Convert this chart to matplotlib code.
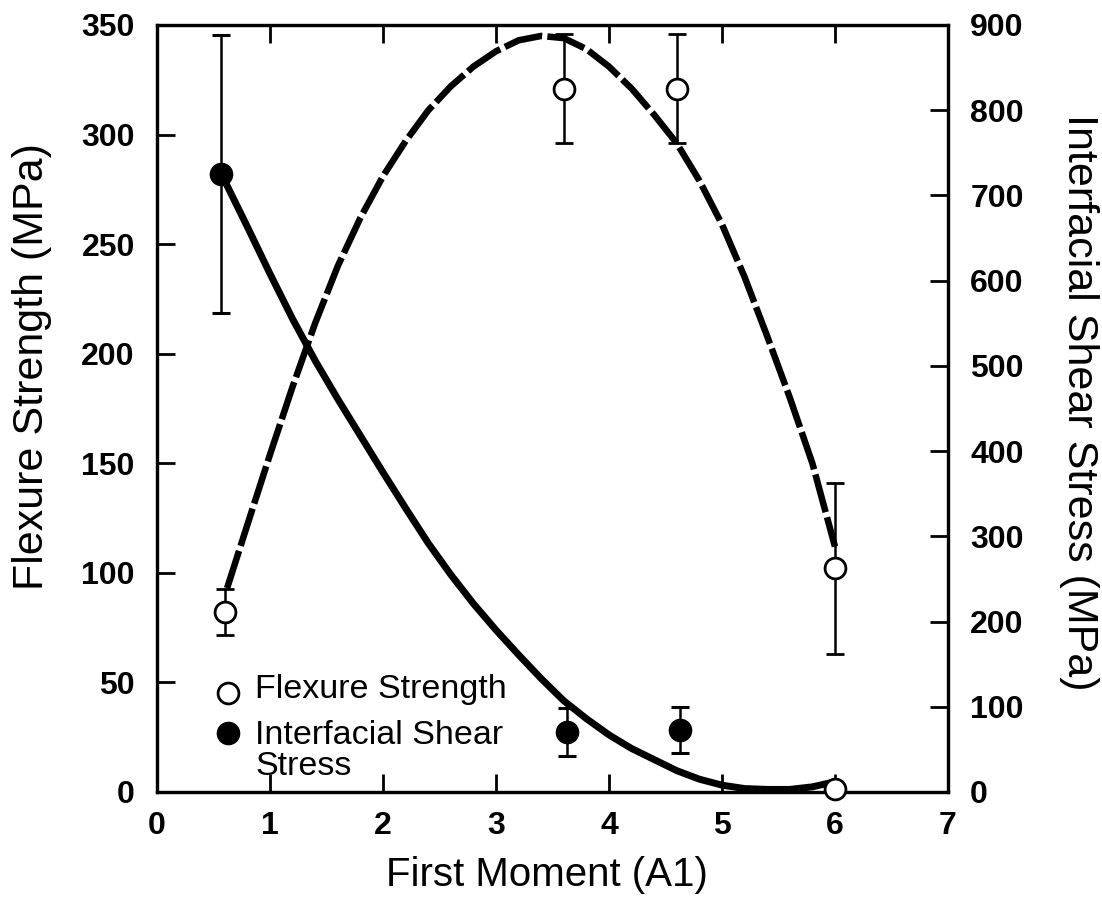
import matplotlib
matplotlib.use("Agg")
import matplotlib.pyplot as plt

plt.rcParams['font.family'] = ['Liberation Sans', 'DejaVu Sans']

# measured points, flexure strength (left axis, MPa)
moment_flex = [0.6, 3.6, 4.6, 6.0]
flex_strength = [82, 321, 321, 102]
flex_err = [10.5, 25, 25, 39]

# measured points, interfacial shear stress (right axis, MPa)
moment_iss = [0.57, 3.63, 4.63]
shear_stress = [725, 70, 73]
shear_err = [163, 28, 27]
moment_iss_open = [6.0]
shear_open = [3]

# hand-drawn trend curves
curve_flex_x = [0.62, 0.8, 1.0, 1.2, 1.4, 1.6, 1.8, 2.0, 2.2, 2.4, 2.6, 2.8,
                3.0, 3.2, 3.4, 3.6, 3.8, 4.0, 4.2, 4.4, 4.6, 4.8, 5.0, 5.2,
                5.4, 5.6, 5.8, 6.0]
curve_flex_y = [93, 122, 154, 185, 214, 240, 262, 281, 297, 311, 322, 331,
                338, 343, 345, 344, 339, 331, 321, 309, 296, 279, 259, 235,
                208, 180, 150, 112]
curve_iss_x = [0.57, 0.8, 1.0, 1.2, 1.4, 1.6, 1.8, 2.0, 2.2, 2.4, 2.6, 2.8,
               3.0, 3.2, 3.4, 3.6, 3.8, 4.0, 4.2, 4.4, 4.6, 4.8, 5.0, 5.2,
               5.4, 5.6, 5.8, 6.0]
curve_iss_y = [725, 663, 608, 555, 506, 461, 418, 375, 333, 292, 255, 221,
               190, 161, 133, 107, 86, 67, 51, 38, 25, 15, 8, 4,
               3, 3, 6, 12]

x_ticks = list(range(0, 8))
left_ticks = list(range(0, 351, 50))
right_ticks = list(range(0, 901, 100))

fig = plt.figure(figsize=(11.02, 9.05), dpi=100)
ax = fig.add_axes([0.1425, 0.1249, 0.7177, 0.8475])
ax2 = ax.twinx()

# curves
ax.plot(curve_flex_x, curve_flex_y, color='black', lw=4.7, ls=(0, (6, 0.8)),
        dash_capstyle='butt', zorder=3)
ax2.plot(curve_iss_x, curve_iss_y, color='black', lw=5, solid_capstyle='round',
         solid_joinstyle='round', zorder=3)

# data with error bars
ax.errorbar(moment_flex, flex_strength, yerr=flex_err, fmt='o', ms=15,
            mfc='white', mec='black', mew=2, ecolor='black', elinewidth=1.8,
            capsize=6.5, capthick=2.2, zorder=4)
ax2.errorbar(moment_iss, shear_stress, yerr=shear_err, fmt='o', ms=16,
             mfc='black', mec='black', ecolor='black', elinewidth=1.8,
             capsize=6.5, capthick=2.2, zorder=4)
ax2.plot(moment_iss_open, shear_open, 'o', ms=15, mfc='white', mec='black',
         mew=2, clip_on=False, zorder=5)

ax.set_xlim(0, 7)
ax.set_ylim(0, 350)
ax2.set_ylim(0, 900)
ax.set_xticks(x_ticks)
ax.set_yticks(left_ticks)
ax2.set_yticks(right_ticks)

ax.tick_params(axis='x', direction='in', top=True, length=13, width=2,
               pad=14, labelsize=23)
ax.tick_params(axis='y', direction='in', length=13, width=2, pad=16,
               labelsize=23)
ax2.tick_params(axis='y', direction='in', length=13, width=2, pad=16,
                labelsize=23)
for lbl in ax.get_xticklabels() + ax.get_yticklabels() + ax2.get_yticklabels():
    lbl.set_fontweight('bold')

for a in (ax, ax2):
    for sp in a.spines.values():
        sp.set_linewidth(2.3)

ax.set_xlabel('First Moment (A1)', fontsize=29, va='center')
ax.xaxis.set_label_coords(0.493, -0.108)
ax.set_ylabel('Flexure Strength (MPa)', fontsize=31, va='center')
ax.yaxis.set_label_coords(-0.158, 0.554)
ax2.set_ylabel('Interfacial Shear Stress (MPa)', fontsize=31, rotation=270,
               va='center')
ax2.yaxis.set_label_coords(1.166, 0.508)

# legend drawn inside the axes
ax.plot([0.09], [0.129], 'o', ms=15, mfc='white', mec='black', mew=2,
        transform=ax.transAxes, clip_on=False)
ax.plot([0.09], [0.077], 'o', ms=16, mfc='black', mec='black',
        transform=ax.transAxes, clip_on=False)
ax.text(0.124, 0.133, 'Flexure Strength', fontsize=24.5, va='center',
        transform=ax.transAxes)
ax.text(0.124, 0.054, 'Interfacial Shear\nStress', fontsize=24.5, va='center',
        linespacing=1.0, transform=ax.transAxes)

fig.savefig('out.png', dpi=100)
